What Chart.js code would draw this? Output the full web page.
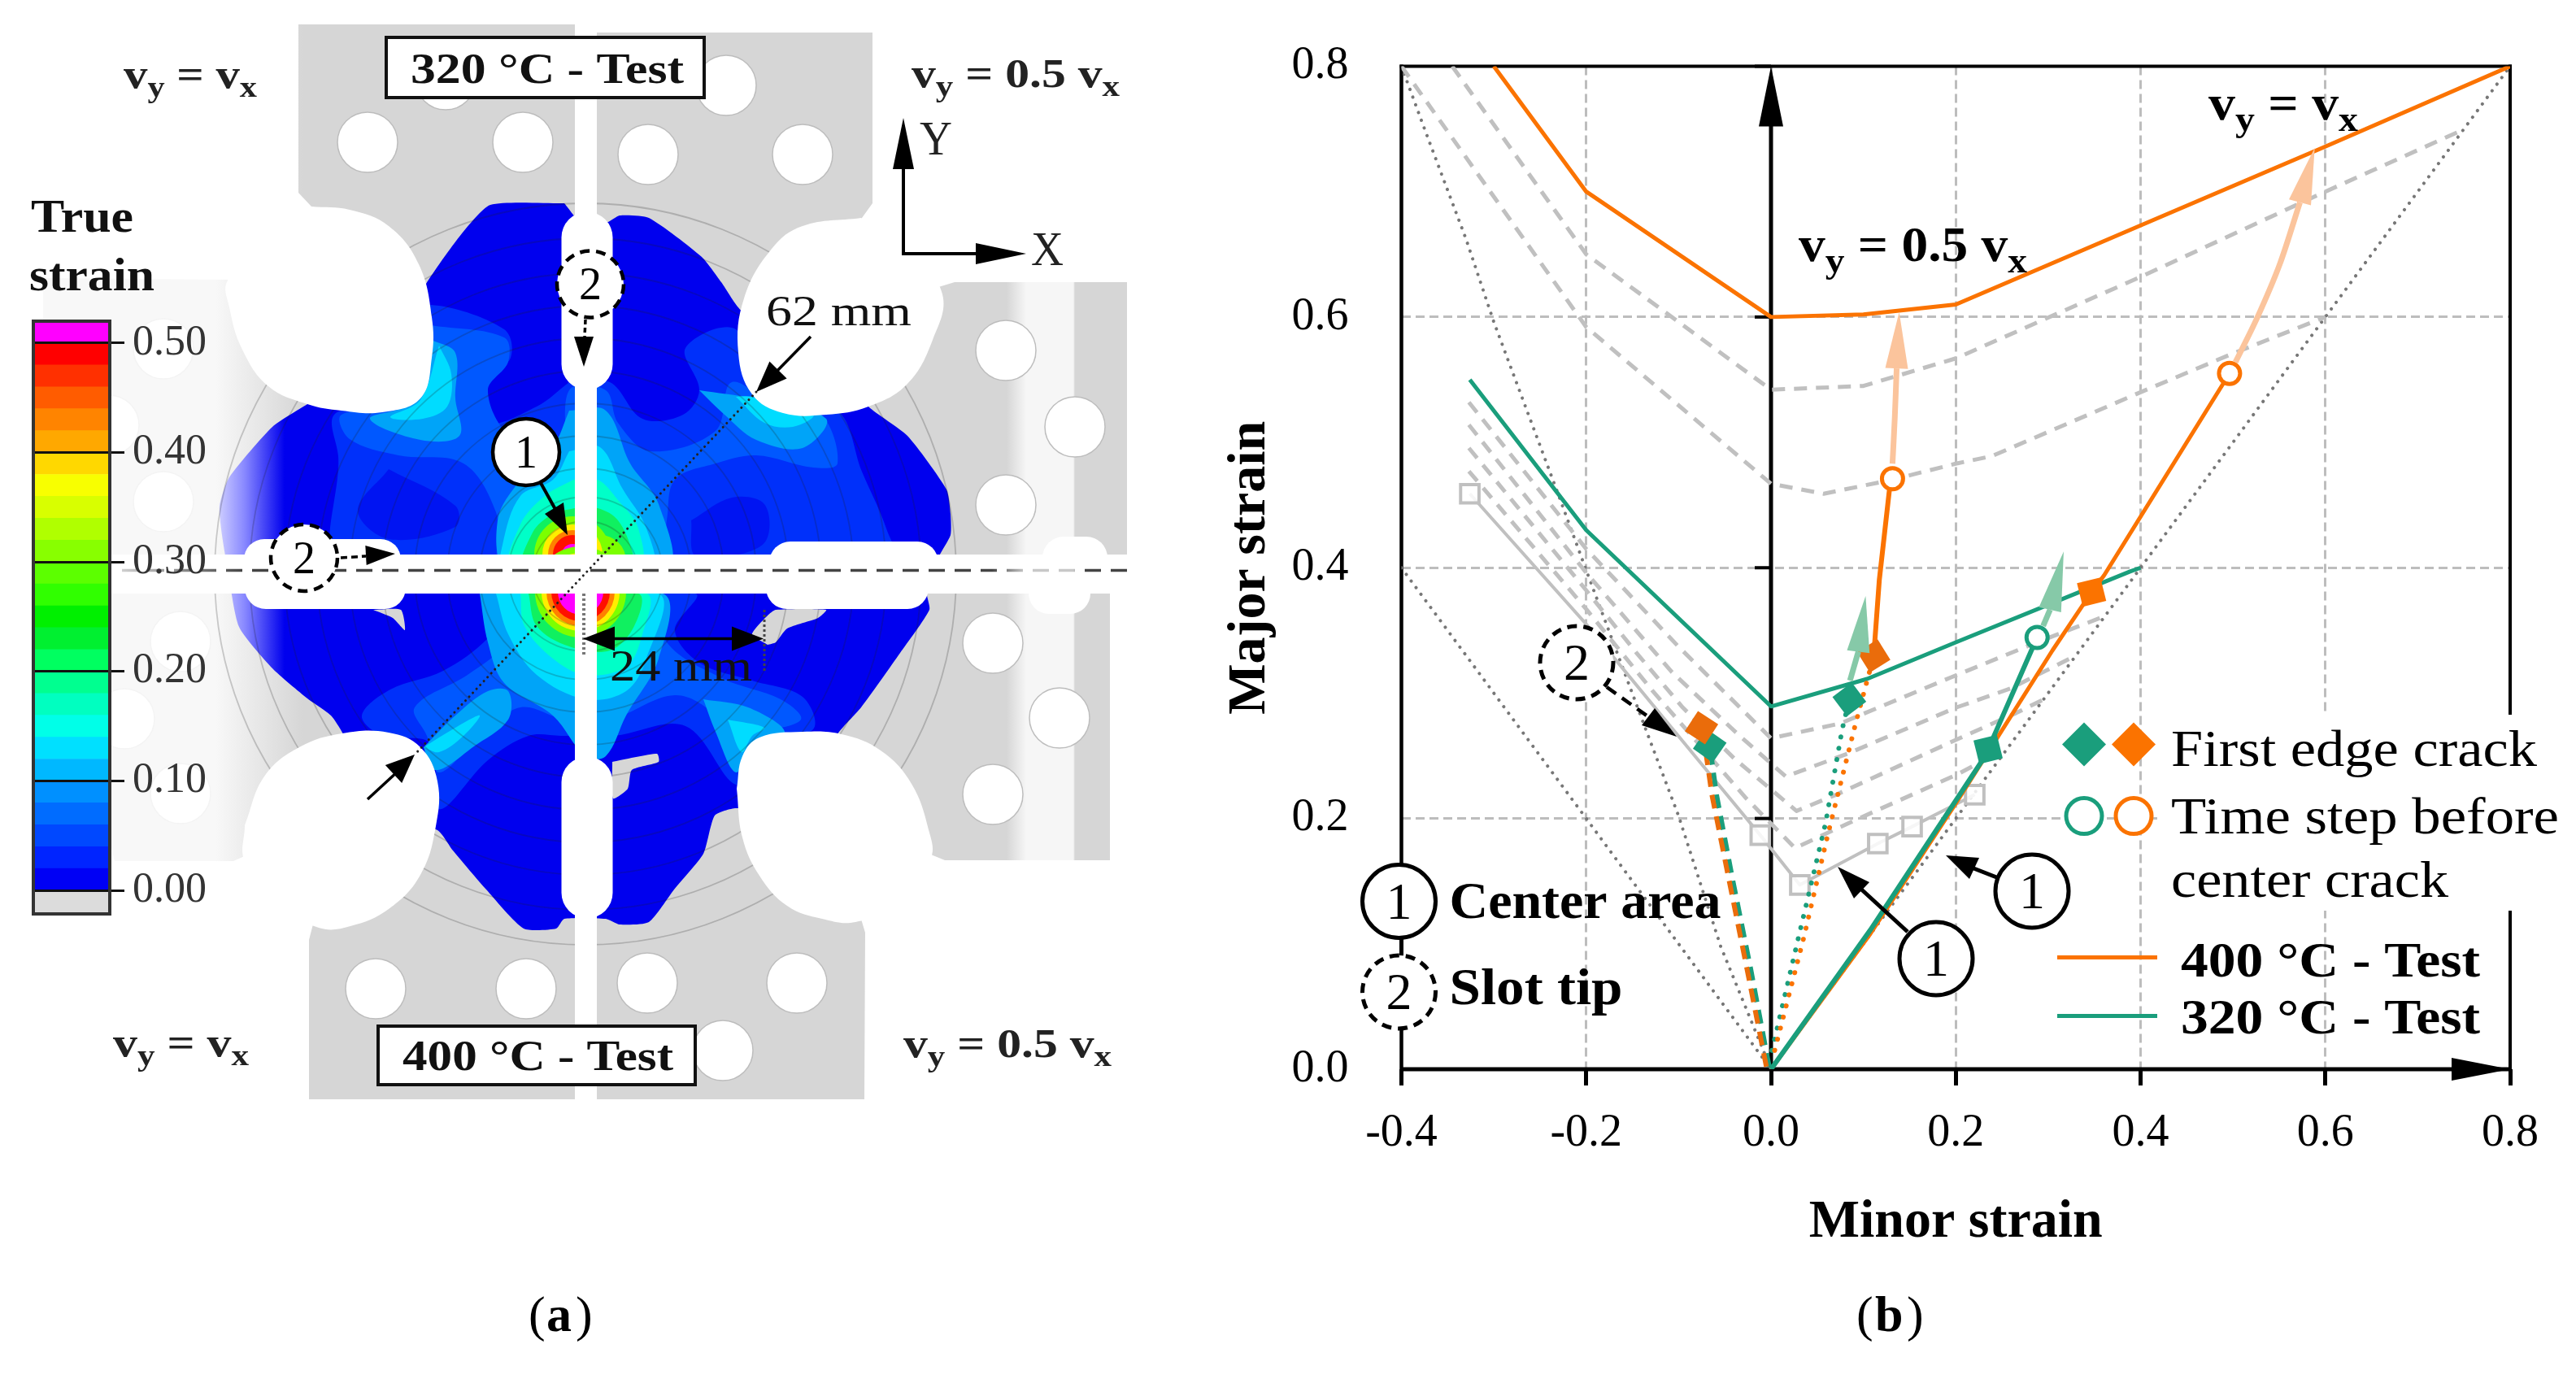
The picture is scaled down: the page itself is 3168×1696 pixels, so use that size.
<!DOCTYPE html>
<html><head><meta charset="utf-8">
<script src="https://cdn.jsdelivr.net/npm/chart.js@4"></script>
<style>
html,body{margin:0;padding:0;background:#fff;width:3168px;height:1696px;overflow:hidden}
canvas{position:absolute;display:block}
</style></head><body>
<canvas id="panelA" width="1450" height="1696" style="left:0;top:0;width:1450px;height:1696px"></canvas>
<canvas id="cbar" width="300" height="780" style="left:0;top:370px;width:300px;height:780px"></canvas>
<canvas id="panelB" width="1718" height="1696" style="left:1450px;top:0;width:1718px;height:1696px"></canvas>
<script>
/* ---------- panel (b) : forming-limit diagram ---------- */
const xTickValues=[-0.4,-0.2,0,0.2,0.4,0.6,0.8];
const yTickValues=[0,0.2,0.4,0.6,0.8];
const limit400=[[-0.3,0.8],[-0.2,0.7],[0,0.6],[0.1,0.602],[0.2,0.61],[0.4,0.673],[0.6,0.736],[0.8,0.8]];
const limit320=[[-0.326,0.55],[-0.2,0.43],[0,0.2894],[0.104,0.3113],[0.2,0.3405],[0.3886,0.397],[0.4,0.4]];
const greyA=[[-0.345,0.8],[-0.2,0.65],[0,0.542],[0.1,0.545],[0.2,0.567],[0.4,0.632],[0.6,0.7],[0.745,0.748]];
const greyB=[[-0.4,0.8],[-0.2,0.592],[0,0.467],[0.057,0.459],[0.13,0.47],[0.2,0.483],[0.239,0.489],[0.4,0.54],[0.497,0.57],[0.6,0.6]];
const greyD1=[[-0.327,0.532],[-0.2,0.415],[-0.1,0.337],[0,0.264],[0.0745,0.2757],[0.195,0.3126],[0.2828,0.339],[0.36,0.361]];
const greyD2=[[-0.327,0.514],[-0.2,0.396],[-0.107,0.3166],[-0.037,0.268],[0.016,0.2335],[0.083,0.2517],[0.2008,0.2886],[0.259,0.3036],[0.33,0.33]];
const greyD3=[[-0.327,0.4955],[-0.2,0.382],[-0.1455,0.332],[-0.0956,0.2886],[-0.04,0.248],[0.0276,0.206],[0.0716,0.2193],[0.2,0.2627],[0.265,0.284],[0.295,0.295]];
const greyD4=[[-0.327,0.477],[-0.2,0.367],[-0.128,0.3016],[-0.028,0.217],[0.0259,0.1764],[0.092,0.199],[0.2,0.2346],[0.24,0.25]];
const greySolid=[[-0.326,0.459],[-0.2,0.355],[-0.0646,0.234],[-0.0116,0.1867],[0.0312,0.147],[0.1156,0.18],[0.1527,0.1935],[0.2205,0.219]];
const greySolidMarkerSize=[16,0,0,16,16,16,16,16];
const dottedUpperLeft=[[-0.4,0.8],[-0.3745,0.749],[-0.33,0.662],[-0.3,0.596],[-0.231,0.46],[-0.2,0.398],[-0.135,0.27],[-0.1,0.202],[-0.0545,0.098],[0,0]];
const dottedLowerLeft=[[-0.4,0.4],[-0.2,0.2],[0,0]];
const dottedRight=[[0,0],[0.4,0.4],[0.6,0.6],[0.8,0.8]];
const slotTip320=[[-0.002,0.002],[-0.022,0.08],[-0.042,0.153],[-0.059,0.219],[-0.0663,0.258]];
const slotTip400=[[-0.005,0.002],[-0.026,0.08],[-0.046,0.153],[-0.064,0.219],[-0.07,0.25],[-0.0752,0.2724]];
const mid320=[[0.001,0.015],[0.031,0.109],[0.059,0.196],[0.077,0.271],[0.0848,0.295]];
const mid400=[[0.004,0.015],[0.036,0.1065],[0.0616,0.1875],[0.092,0.277],[0.1112,0.3296]];
const mid400Upper=[[0.1112,0.3296],[0.1172,0.39],[0.128,0.461],[0.1315,0.471]];
const center320=[[0,0],[0.1075,0.111],[0.229,0.2467],[0.235,0.2551],[0.288,0.3444]];
const center400=[[0,0],[0.1075,0.108],[0.2,0.212],[0.3046,0.334],[0.347,0.3806],[0.3606,0.394],[0.4963,0.555]];
const crack320=[[-0.0663,0.258],[0.0848,0.295],[0.235,0.2551]];
const crack320Rotation=[35,-37,-14];
const crack400=[[-0.0752,0.2724],[0.1112,0.3296],[0.347,0.3806]];
const crack400Rotation=[33,-32,-14];
const crack400Colors=['#ea6c0b','#ea6c0b','#fb7300'];
const before400=[[0.1315,0.471],[0.4963,0.555]];
const before320=[[0.288,0.3444]];
const paleOrangeShaft1=[[0.1315,0.483],[0.134,0.52],[0.136,0.559]];
const paleOrangeTip1=[0.1387,0.604];
const paleOrangeShaft2=[[0.5027,0.564],[0.526,0.599],[0.5506,0.642],[0.5725,0.6915]];
const paleOrangeTip2=[0.5885,0.735];
const paleGreenShaft1=[[0.0855,0.31],[0.0945,0.333]];
const paleGreenTip1=[0.1024,0.3775];
const paleGreenShaft2=[[0.2945,0.3535],[0.302,0.3665]];
const paleGreenTip2=[0.3168,0.413];

const ORANGE='#fb7300',GREEN='#1a9e7c',GREY='#c0c0c0',DOT='#777777',PALEO='#fbc49c',PALEG='#86c9a8';
const SERIF='"Liberation Serif","Times New Roman",serif';
const P=a=>a.map(([x,y])=>({x,y}));
const lineDs=(data,color,width,dash,extra)=>Object.assign({data:P(data),showLine:true,borderColor:color,borderWidth:width,borderDash:dash||[],pointRadius:0,fill:false,tension:0,borderJoinStyle:'round'},extra||{});
const dots=(data,color,width,gap)=>lineDs(data,color,width,[0.1,gap],{borderCapStyle:'round'});
const noScalePad=s=>{s.paddingTop=0;s.paddingBottom=0;s.paddingLeft=0;s.paddingRight=0;};

function T(ctx,text,x,base,font,width,color,align){
  ctx.save();ctx.font=font;ctx.fillStyle=color||'#000';ctx.textBaseline='alphabetic';ctx.textAlign='left';
  const w=ctx.measureText(text).width,sx=width?width/w:1;
  if(align==='center')x-=w*sx/2;
  ctx.translate(x,base);ctx.scale(sx,1);ctx.fillText(text,0,0);ctx.restore();
}
function vLabel(ctx,x,base,endX,size,rhs,color){
  const big=`bold ${size}px ${SERIF}`,small=`bold ${Math.round(size*0.72)}px ${SERIF}`;
  const parts=[['v',big,0],['y',small,size*0.22],[' = ',big,0]];
  if(rhs)parts.push([rhs+' ',big,0]);
  parts.push(['v',big,0],['x',small,size*0.22]);
  ctx.save();let total=0;
  for(const p of parts){ctx.font=p[1];total+=ctx.measureText(p[0]).width;}
  const sx=(endX-x)/total;let cx=x;
  ctx.fillStyle=color||'#000';ctx.textBaseline='alphabetic';ctx.textAlign='left';
  for(const p of parts){
    ctx.font=p[1];const w=ctx.measureText(p[0]).width;
    ctx.save();ctx.translate(cx,base+p[2]);ctx.scale(sx,1);ctx.fillText(p[0],0,0);ctx.restore();
    cx+=w*sx;
  }
  ctx.restore();
}
function head(ctx,x1,y1,x2,y2,half,color){
  const a=Math.atan2(y2-y1,x2-x1),nx=-Math.sin(a)*half,ny=Math.cos(a)*half;
  ctx.save();ctx.fillStyle=color||'#000';ctx.beginPath();
  ctx.moveTo(x2,y2);ctx.lineTo(x1+nx,y1+ny);ctx.lineTo(x1-nx,y1-ny);ctx.closePath();ctx.fill();ctx.restore();
}
function seg(ctx,x1,y1,x2,y2,w,color,dash){
  ctx.save();ctx.strokeStyle=color||'#000';ctx.lineWidth=w;ctx.setLineDash(dash||[]);
  ctx.beginPath();ctx.moveTo(x1,y1);ctx.lineTo(x2,y2);ctx.stroke();ctx.restore();
}
function ring(ctx,x,y,r,label,dashed,size,lw){
  ctx.save();ctx.beginPath();ctx.arc(x,y,r,0,Math.PI*2);ctx.fillStyle='#fff';ctx.fill();
  ctx.strokeStyle='#000';ctx.lineWidth=lw||4.5;ctx.setLineDash(dashed?[12,8]:[]);ctx.stroke();ctx.restore();
  T(ctx,label,x,y+size*0.335,`${size}px ${SERIF}`,0,'#000','center');
}

const spinesPlugin={id:'spines',
  beforeDatasetsDraw(c){
    const ctx=c.ctx,{left,right,top,bottom}=c.chartArea,x=c.scales.x,y=c.scales.y,x0=x.getPixelForValue(0);
    seg(ctx,left,top-2,left,bottom+2,4.5);seg(ctx,right,top-2,right,bottom+2,4);
    seg(ctx,left-2,top,right+2,top,4);seg(ctx,left,bottom,right,bottom,5);
    seg(ctx,x0,top+70,x0,bottom,5);
    for(const v of yTickValues){const py=y.getPixelForValue(v);seg(ctx,x0-20,py,x0,py,4);}
    head(ctx,x0,top+74,x0,top,15);
  },
  afterDatasetsDraw(c){
    const ctx=c.ctx,X=c.scales.x,Y=c.scales.y;
    const tipArrow=(shaft,tip,color)=>{const s=shaft[shaft.length-1];
      head(ctx,X.getPixelForValue(s[0]),Y.getPixelForValue(s[1]),X.getPixelForValue(tip[0]),Y.getPixelForValue(tip[1]),14,color);};
    tipArrow(paleOrangeShaft1,paleOrangeTip1,PALEO);tipArrow(paleOrangeShaft2,paleOrangeTip2,PALEO);
    tipArrow(paleGreenShaft1,paleGreenTip1,PALEG);tipArrow(paleGreenShaft2,paleGreenTip2,PALEG);
    ctx.save();ctx.translate(-1450,0);
    const b=c.chartArea.bottom;
    head(ctx,3015,b,3087,b,14);
    ctx.fillStyle='#fff';ctx.fillRect(2654,879,514,241);
    const diamond=(x,y,r,col)=>{ctx.fillStyle=col;ctx.beginPath();ctx.moveTo(x,y-r);ctx.lineTo(x+r,y);ctx.lineTo(x,y+r);ctx.lineTo(x-r,y);ctx.closePath();ctx.fill();};
    diamond(2563,915.5,27,GREEN);diamond(2624,915.5,27,ORANGE);
    for(const [x,col] of [[2563,GREEN],[2624,ORANGE]]){ctx.beginPath();ctx.arc(x,1003.6,22,0,Math.PI*2);ctx.fillStyle='#fff';ctx.fill();ctx.strokeStyle=col;ctx.lineWidth=5;ctx.stroke();}
    T(ctx,'First edge crack',2670,941.5,`64px ${SERIF}`,450);
    T(ctx,'Time step before',2670,1025,`64px ${SERIF}`,477);
    T(ctx,'center crack',2670,1102.5,`64px ${SERIF}`,341);
    seg(ctx,2530,1177.6,2653,1177.6,5,ORANGE);seg(ctx,2530,1249.6,2653,1249.6,5,GREEN);
    T(ctx,'400 °C - Test',2682,1201,`bold 62px ${SERIF}`,368);
    T(ctx,'320 °C - Test',2682,1271,`bold 62px ${SERIF}`,368);
    vLabel(ctx,2212,321,2493,62,'0.5');
    vLabel(ctx,2716,147,2900,62,'');
    seg(ctx,2458,1080,2412,1062,5);
    ctx.save();ctx.fillStyle='#000';ctx.beginPath();ctx.moveTo(2393,1052);ctx.lineTo(2434,1055);ctx.lineTo(2422,1081);ctx.closePath();ctx.fill();ctx.restore();
    ring(ctx,2499,1096,45,'1',false,64,5);
    seg(ctx,2346,1146,2285,1090,5);
    ctx.save();ctx.fillStyle='#000';ctx.beginPath();ctx.moveTo(2260,1066);ctx.lineTo(2299,1085);ctx.lineTo(2280,1105);ctx.closePath();ctx.fill();ctx.restore();
    ring(ctx,2381,1179,45,'1',false,64,5);
    seg(ctx,1976,845,2025,880,4.5,'#000',[14,9]);
    ctx.save();ctx.fillStyle='#000';ctx.beginPath();ctx.moveTo(2062,906);ctx.lineTo(2019,892);ctx.lineTo(2035,871);ctx.closePath();ctx.fill();ctx.restore();
    ring(ctx,1939,815,45,'2',true,64,5);
    seg(ctx,1723.5,1150,1723.5,1175,5);
    ring(ctx,1720.5,1108.5,45,'1',false,64,5);
    ring(ctx,1720.5,1220,45,'2',true,64,5);
    T(ctx,'Center area',1782.5,1128.6,`bold 64px ${SERIF}`,334);
    T(ctx,'Slot tip',1782.5,1235,`bold 64px ${SERIF}`,213);
    T(ctx,'(',2283,1637,`62px ${SERIF}`);T(ctx,'b',2306,1637,`bold 62px ${SERIF}`);T(ctx,')',2345,1637,`62px ${SERIF}`);
    ctx.restore();
  }};

const bLayers=[
  dots(dottedUpperLeft,DOT,4,10),dots(dottedLowerLeft,DOT,4,10),dots(dottedRight,DOT,4,10),
  lineDs(greyA,GREY,5,[16,11]),lineDs(greyB,GREY,5,[16,11]),
  lineDs(greyD1,GREY,5,[16,11]),lineDs(greyD2,GREY,5,[16,11]),lineDs(greyD3,GREY,5,[16,11]),lineDs(greyD4,GREY,5,[16,11]),
  lineDs(greySolid,GREY,4,[],{pointStyle:'rect',pointRadius:greySolidMarkerSize,pointBackgroundColor:'rgba(255,255,255,0.85)',pointBorderColor:GREY,pointBorderWidth:4}),
  lineDs(limit400,ORANGE,5),lineDs(limit320,GREEN,5),
  dots(mid320,GREEN,6,14),dots(mid400,ORANGE,6,14),
  lineDs(slotTip320,GREEN,6,[17,10]),lineDs(slotTip400,'#ea6c0b',6,[17,10]),
  lineDs(center400,ORANGE,5),lineDs(mid400Upper,ORANGE,6),lineDs(center320,GREEN,6),
  lineDs(crack320,GREEN,0,[],{showLine:false,pointStyle:'rect',pointRadius:21,pointRotation:crack320Rotation,pointBackgroundColor:GREEN,pointBorderWidth:0}),
  lineDs(crack400,ORANGE,0,[],{showLine:false,pointStyle:'rect',pointRadius:21,pointRotation:crack400Rotation,pointBackgroundColor:crack400Colors,pointBorderWidth:0}),
  lineDs(paleOrangeShaft1,PALEO,7,[],{tension:0.3}),lineDs(paleOrangeShaft2,PALEO,7,[],{tension:0.3}),
  lineDs(paleGreenShaft1,PALEG,7),lineDs(paleGreenShaft2,PALEG,7),
  lineDs(before320,GREEN,0,[],{showLine:false,pointRadius:13,pointBackgroundColor:'#fff',pointBorderColor:GREEN,pointBorderWidth:5}),
  lineDs(before400,ORANGE,0,[],{showLine:false,pointRadius:13,pointBackgroundColor:'#fff',pointBorderColor:ORANGE,pointBorderWidth:5})
];
new Chart(document.getElementById('panelB'),{type:'scatter',
  data:{datasets:bLayers.slice().reverse()},
  plugins:[spinesPlugin],
  options:{responsive:false,animation:false,devicePixelRatio:1,events:[],
    layout:{autoPadding:false,padding:{left:0,top:81.5,right:81,bottom:0}},
    plugins:{legend:{display:false},tooltip:{enabled:false}},
    scales:{
      x:{type:'linear',min:-0.4,max:0.8,afterFit:s=>{s.height=381;noScalePad(s);},
        afterBuildTicks:s=>{s.ticks=xTickValues.map(v=>({value:v}));},
        border:{display:false,dash:[11,6]},
        grid:{color:'#bdbdbd',lineWidth:3,tickColor:'#000',tickWidth:5,tickLength:20,tickBorderDash:[]},
        ticks:{color:'#000',font:{family:SERIF,size:56},padding:26,maxRotation:0,autoSkip:false,callback:v=>v.toFixed(1)},
        title:{display:true,text:'Minor strain',color:'#000',font:{family:SERIF,size:66,weight:'bold'},padding:{top:0,bottom:152}}},
      y:{type:'linear',min:0,max:0.8,afterFit:s=>{s.width=273.5;noScalePad(s);},
        afterBuildTicks:s=>{s.ticks=yTickValues.map(v=>({value:v}));},
        border:{display:false,dash:[11,6]},
        grid:{color:'#bdbdbd',lineWidth:3,drawTicks:false},
        ticks:{color:'#000',font:{family:SERIF,size:56},padding:65,autoSkip:false,callback:v=>v.toFixed(1)},
        title:{display:true,text:'Major strain',color:'#000',font:{family:SERIF,size:66,weight:'bold'},padding:{top:48,bottom:0}}}
    }}});

/* ---------- colour scale of panel (a) ---------- */
const strainTicks=[0,0.1,0.2,0.3,0.4,0.5];
const bandEdges=[-0.0215,0,0.02,0.04,0.06,0.08,0.1,0.12,0.14,0.16,0.18,0.2,0.22,0.24,0.26,0.28,0.3,0.32,0.34,0.36,0.38,0.4,0.42,0.44,0.46,0.48,0.5,0.52];
const bandColors=['#dcdcdc','#0000f5','#0024ff','#0048ff','#006cff','#0090ff','#00b8ff','#00e0ff','#00ffe8','#00ffc0','#00ff90','#00ff60','#00f030','#00f000','#30ff00','#5cff00','#88ff00','#b0ff00','#d8ff00','#f8ff00','#ffd800','#ffa800','#ff8400','#ff5c00','#ff3000','#ff0000','#ff00ff'];
new Chart(document.getElementById('cbar'),{type:'bar',
  data:{labels:['True strain'],datasets:bandColors.map((c,i)=>({data:[[bandEdges[i],bandEdges[i+1]]],backgroundColor:c,borderWidth:0,grouped:false,barPercentage:1,categoryPercentage:1}))},
  plugins:[{id:'frame',afterDraw(c){const {left,right,top,bottom}=c.chartArea,ctx=c.ctx;ctx.save();ctx.strokeStyle='#333';ctx.lineWidth=4;ctx.strokeRect(left,top,right-left,bottom-top);ctx.restore();}}],
  options:{responsive:false,animation:false,devicePixelRatio:1,events:[],
    layout:{autoPadding:false,padding:{left:41,top:25,bottom:26,right:0}},
    plugins:{legend:{display:false},tooltip:{enabled:false}},
    scales:{
      x:{display:false},
      y:{position:'right',min:-0.0215,max:0.52,afterFit:s=>{s.width=165;noScalePad(s);},
        afterBuildTicks:s=>{s.ticks=strainTicks.map(v=>({value:v}));},
        border:{display:false},
        grid:{color:'#111',lineWidth:3,z:1,tickLength:18,tickColor:'#111'},
        ticks:{color:'#333',font:{family:SERIF,size:52},padding:10,autoSkip:false,callback:v=>v.toFixed(2)}}
    }}});

/* ---------- panel (a) : specimen with strain contours ---------- */
const specimenCross=[[367,30],[707,30],[707,40],[1073,40],[1073,250],[1060,268],[1000,400],[1174,347],[1386,347],[1386,685],[1365,730],[1365,1058],[1162,1058],[1020,1000],[1064,1147],[1063,1352],[380,1352],[380,1156],[420,1000],[287,1059],[141,1059],[53,700],[53,342],[285,344],[430,400],[383,254],[367,237]];
const blobTL=[[383,254],[430,258],[478,278],[515,325],[531,390],[531,440],[517,490],[470,507],[420,505],[378,497],[330,475],[298,430],[282,378],[280,345],[330,300],[383,254]];
const blobTR=[[1059,268],[987,278],[949,306],[915,367],[908,434],[925,485],[963,508],[1016,510],[1068,500],[1116,472],[1147,418],[1159,362],[1120,310],[1059,268]];
const blobBL=[[301,1015],[325,955],[368,919],[421,902],[478,901],[517,919],[538,961],[536,1016],[517,1076],[478,1118],[431,1139],[392,1141],[340,1110],[301,1060],[301,1015]];
const blobBR=[[906,970],[913,930],[934,907],[987,900],[1035,903],[1083,923],[1121,964],[1143,1024],[1145,1055],[1110,1110],[1052,1134],[1011,1130],[968,1114],[934,1077],[913,1030],[906,970]];
const strainBody=[[694,250],[603,252],[565,291],[524,349],[480,430],[378,497],[335,525],[282,587],[270,622],[273,658],[280,700],[294,771],[335,822],[378,859],[407,880],[421,901],[470,1000],[538,1021],[557,1046],[598,1094],[644,1142],[684,1142],[694,1130],[745,1130],[762,1137],[798,1134],[829,1094],[865,1050],[879,1003],[905,994],[980,1000],[1030,903],[1059,870],[1107,803],[1143,750],[1140,730],[1155,684],[1169,658],[1169,633],[1164,602],[1116,536],[1068,500],[1000,420],[913,383],[887,347],[863,316],[798,268],[762,265],[748,273],[720,280],[694,250]];
const tongue1=[[944,793],[925,780],[944,757],[954,750],[1016,750],[1006,760],[968,773],[954,790],[944,793]];
const tongue2=[[753,937],[808,927],[810,937],[777,947],[772,970],[754,982],[753,937]];
const tongue3=[[459,750],[493,750],[498,775],[483,760],[459,750]];
const levelAUp=[[700,470],[750,470],[790,515],[840,510],[860,480],[843,428],[905,405],[960,500],[1030,505],[1060,580],[1090,650],[1100,700],[425,700],[416,561],[411,510],[470,500],[517,490],[531,400],[530,375],[620,405],[628,440],[596,470],[600,520],[660,500],[700,470]];
const levelALow=[[640,730],[600,785],[545,825],[480,848],[445,880],[470,905],[530,915],[540,995],[600,935],[650,905],[690,905],[755,905],[843,893],[905,965],[925,920],[1000,897],[987,857],[925,837],[860,815],[830,775],[855,730],[640,730]];
const islandTL=[[478,577],[560,622],[560,648],[478,663],[440,628],[478,577]];
const islandTR=[[850,640],[900,612],[940,620],[942,665],[900,684],[855,684],[850,640]];
const levelBUp=[[530,400],[620,415],[625,445],[600,480],[625,535],[690,570],[700,480],[745,480],[760,520],[800,555],[880,530],[900,470],[960,505],[1010,510],[1030,570],[1000,575],[930,560],[880,570],[830,590],[820,640],[810,700],[620,700],[610,630],[570,570],[490,560],[430,540],[420,510],[517,492],[530,440],[530,400]];
const levelBLow=[[660,730],[625,790],[575,830],[510,870],[525,905],[540,950],[590,905],[640,870],[695,885],[750,885],[830,855],[880,880],[910,930],[930,905],[985,885],[960,860],[890,835],[820,790],[810,730],[660,730]];
const levelCUp=[[700,505],[745,505],[775,570],[810,620],[820,700],[625,700],[612,640],[640,590],[680,550],[700,505]];
const levelCLow=[[590,730],[600,790],[620,840],[680,880],[720,930],[745,930],[770,880],[810,810],[815,730],[590,730]];
const lobeCTL=[[531,418],[560,434],[560,490],[565,536],[517,541],[455,515],[505,495],[531,418]];
const lobeCTR=[[860,480],[925,490],[1016,515],[987,551],[930,541],[891,510],[860,480]];
const lobeCBL=[[521,919],[560,880],[600,850],[625,850],[625,885],[580,920],[545,945],[530,945],[521,919]];
const lobeCBR=[[865,860],[920,870],[965,900],[925,915],[905,950],[880,900],[865,860]];
const levelDUp=[[700,555],[738,550],[765,600],[795,650],[800,700],[620,700],[618,670],[640,610],[680,590],[700,555]];
const levelDLow=[[610,730],[625,780],[660,830],[720,860],[770,850],[795,810],[810,730],[610,730]];
const lobeDTL=[[540,425],[555,460],[550,500],[520,515],[480,513],[517,492],[540,425]];
const lobeDTR=[[905,488],[925,488],[1000,510],[975,525],[940,520],[905,488]];
const lobeDBL=[[521,919],[560,895],[590,880],[570,905],[540,925],[521,919]];
const lobeDBR=[[895,885],[940,895],[925,905],[912,925],[895,885]];
const levelEUp=[[705,590],[735,590],[760,615],[785,650],[785,700],[630,700],[640,645],[670,610],[705,590]];
const levelELow=[[640,730],[645,770],[680,810],[720,830],[770,820],[790,780],[795,730],[640,730]];
const levelFUp=[[707,625],[735,625],[760,640],[778,680],[778,700],[645,700],[655,655],[680,632],[707,625]];
const levelFLow=[[650,730],[660,770],[700,795],[750,800],[780,770],[785,730],[650,730]];
const hotUpperCenter=[[704,682]];
const hotUpperRadius=[47,37,30,24,13];
const hotRightCenter=[[738,690]];
const hotLowerCenter=[[714,728]];
const hotLowerRadius=[56,48,42,36,28];
const hotColors=['#7cff00','#ffee00','#ff8000','#ff1000','#ff00ff'];
const holesPlate=[[452,175],[643,175],[548,98],[893,105],[797,190],[987,190],[1237,431],[1322,525],[1237,621],[1221,791],[1303,883],[1221,977],[462,1216],[647,1216],[796,1209],[980,1209],[889,1292]];
const holesFaint=[[201,429],[201,617],[134,523],[222,789],[222,976],[153,884]];
const ringRadii=[456,413,370,330,290,250,210,170,130,95,65];
const slotDash=[[150,701.5],[1387,701.5]];
const diagonalLine=[[930,482],[510,928]];

const gradCtx=document.createElement('canvas').getContext('2d');
const plateFill=(()=>{const g=gradCtx.createLinearGradient(0,0,1450,0);
  [[0,'#f8f8f8'],[265,'#f8f8f8'],[372,'#d6d6d6'],[1238,'#d6d6d6'],[1262,'#f6f6f6'],[1320,'#f6f6f6'],[1322,'#d6d6d6'],[1450,'#d6d6d6']].forEach(([x,c])=>g.addColorStop(x/1450,c));return g;})();
const bodyFill=(()=>{const g=gradCtx.createLinearGradient(0,0,1450,0);
  [[262,'#dcdcff'],[300,'#8a8aff'],[350,'#0000ee'],[1450,'#0000ee']].forEach(([x,c])=>g.addColorStop(x/1450,c));return g;})();
const dashFill=(()=>{const g=gradCtx.createLinearGradient(0,0,1450,0);
  [[140,'#d8d8d8'],[300,'#444'],[1220,'#444'],[1260,'#c8c8c8'],[1320,'#c8c8c8'],[1335,'#444']].forEach(([x,c])=>g.addColorStop(x/1450,c));return g;})();
const poly=(data,color,tension,label)=>({label:label||'',data:P(data),showLine:true,fill:'shape',backgroundColor:color,borderColor:'rgba(0,0,0,0)',borderWidth:0,pointRadius:0,tension:tension===undefined?0.35:tension,spanGaps:true});
const slot=(a,b,w,cap)=>({data:P([a,b]),showLine:true,borderColor:'#fff',borderWidth:w,borderCapStyle:cap||'round',pointRadius:0,fill:false});
const spot=(c,r,col)=>({data:P(c),showLine:false,pointRadius:r,pointBackgroundColor:col,pointBorderWidth:0});
const holeSet=(c,border)=>({data:P(c),showLine:false,pointRadius:37,pointBackgroundColor:'#fff',pointBorderColor:border,pointBorderWidth:1.5});
const A='#0030fa',B='#0058ff',C='#00a4f8',D='#00dcff',E='#00ffc8',F='#10f060';
const aLayers=[
  poly(specimenCross,plateFill,0),
  poly(strainBody,bodyFill,0.2),
  poly(tongue1,'#d6d6d6',0.2),poly(tongue2,'#d6d6d6',0.2),poly(tongue3,'#d6d6d6',0.2),
  poly(levelAUp,A),poly(levelALow,A),poly(islandTL,'#0014f2'),poly(islandTR,'#0014f2'),
  poly(levelBUp,B),poly(levelBLow,B),
  poly(lobeCTL,C),poly(lobeCTR,C),poly(lobeCBL,C),poly(lobeCBR,C),poly(levelCUp,C),poly(levelCLow,C),
  poly(lobeDTL,D),poly(lobeDTR,D),poly(lobeDBL,D),poly(lobeDBR,D),poly(levelDUp,D),poly(levelDLow,D),
  poly(levelEUp,E),poly(levelELow,E),poly(levelFUp,F),poly(levelFLow,F),
  spot(hotRightCenter,32,'#7cff00'),
  ...hotColors.map((c,i)=>spot(hotUpperCenter,hotUpperRadius[i],c)),
  ...hotColors.map((c,i)=>spot(hotLowerCenter,hotLowerRadius[i],c)),
  Object.assign(spot([[0,0]],0,'#000'),{label:'ringsAnchor'}),
  poly(blobTL,'#fff',0.4),poly(blobTR,'#fff',0.4),poly(blobBL,'#fff',0.4),poly(blobBR,'#fff',0.4),
  holeSet(holesPlate,'#bdbdbd'),holeSet(holesFaint,'#f4f4f4'),
  slot([720.5,30],[720.5,1375],27,'butt'),slot([0,706],[1395,706],48,'butt'),
  slot([722,292],[722,448],63),slot([722,962],[722,1098],63),
  slot([325,688],[468,688],50),slot([327,723],[473,723],52),
  slot([972,692],[1128,692],52),slot([968,723],[1116,723],52),
  slot([1308,686],[1336,686],52),slot([1290,730],[1316,730],50),
  {data:P(slotDash),showLine:true,borderColor:dashFill,borderWidth:3.5,borderDash:[20,12],pointRadius:0,fill:false},
  {data:P(diagonalLine),showLine:true,borderColor:'#222',borderWidth:3,borderDash:[0.1,6.5],borderCapStyle:'round',pointRadius:0,fill:false}
];
const panelAPlugin={id:'panelA',
  afterDatasetDraw(c,args){
    if(c.data.datasets[args.index].label!=='ringsAnchor')return;
    const ctx=c.ctx;ctx.save();ctx.strokeStyle='rgba(30,30,30,0.22)';ctx.lineWidth=1.8;
    for(const r of ringRadii){ctx.beginPath();ctx.arc(720,706,r,0,Math.PI*2);ctx.stroke();}
    ctx.restore();
  },
  afterDatasetsDraw(c){
    const ctx=c.ctx;
    const box=(x,y,w,h)=>{ctx.fillStyle='#fff';ctx.fillRect(x,y,w,h);ctx.strokeStyle='#111';ctx.lineWidth=4;ctx.strokeRect(x,y,w,h);};
    box(475,46,391,74);T(ctx,'320 °C - Test',505,102,`bold 52px ${SERIF}`,336,'#111');
    box(465,1262,390,72);T(ctx,'400 °C - Test',495,1316,`bold 52px ${SERIF}`,333,'#111');
    vLabel(ctx,152,108,316,50,'','#222');vLabel(ctx,1121,107,1377,50,'0.5','#222');
    vLabel(ctx,139,1299,306,50,'','#222');vLabel(ctx,1111,1300,1367,50,'0.5','#222');
    T(ctx,'True',38,285,`bold 56px ${SERIF}`,126,'#111');T(ctx,'strain',36,357,`bold 56px ${SERIF}`,154,'#111');
    seg(ctx,1111,312,1111,200,4);seg(ctx,1109,312,1210,312,4);
    head(ctx,1111,208,1111,145,13);head(ctx,1200,312,1262,312,13);
    T(ctx,'Y',1131,190,`60px ${SERIF}`,40,'#222');T(ctx,'X',1268,326,`60px ${SERIF}`,40,'#222');
    T(ctx,'62 mm',942,400,`52px ${SERIF}`,179,'#111');
    seg(ctx,997,414,950,462,3.5);head(ctx,957,455,930,482,15,'#000');
    seg(ctx,452,983,490,948,3.5);head(ctx,484,952,510,928,15,'#000');
    seg(ctx,718,730,718,807,4,'#777',[3,3]);seg(ctx,940,750,940,825,3,'#444',[3,3]);
    seg(ctx,745,785.4,910,785.4,3.5);head(ctx,756,785.4,717,785.4,15);head(ctx,900,785.4,939,785.4,15);
    T(ctx,'24 mm',750,837,`54px ${SERIF}`,175,'#111');
    seg(ctx,665,594,685,630,4);
    ctx.save();ctx.fillStyle='#000';ctx.beginPath();ctx.moveTo(698,658);ctx.lineTo(670,632);ctx.lineTo(693,618);ctx.closePath();ctx.fill();ctx.restore();
    ring(ctx,647,556,41,'1',false,56,4.5);
    seg(ctx,720,393,719,414,3.5,'#000',[6,4]);head(ctx,718,414,718,451,12);
    ring(ctx,726,349.5,41,'2',true,56,4.5);
    seg(ctx,419,686,450,684,3.5,'#000',[8,5]);head(ctx,450,683,486,681,12);
    ring(ctx,374,686,41,'2',true,56,4.5);
    T(ctx,'(',650,1637,`62px ${SERIF}`);T(ctx,'a',672,1637,`bold 62px ${SERIF}`);T(ctx,')',708,1637,`62px ${SERIF}`);
  }};
new Chart(document.getElementById('panelA'),{type:'scatter',
  data:{datasets:aLayers.slice().reverse()},
  plugins:[panelAPlugin],
  options:{responsive:false,animation:false,devicePixelRatio:1,events:[],clip:false,
    layout:{autoPadding:false,padding:0},
    plugins:{legend:{display:false},tooltip:{enabled:false}},
    scales:{x:{type:'linear',display:false,min:0,max:1450},y:{type:'linear',display:false,reverse:true,min:0,max:1696}}}});
</script>
</body></html>
